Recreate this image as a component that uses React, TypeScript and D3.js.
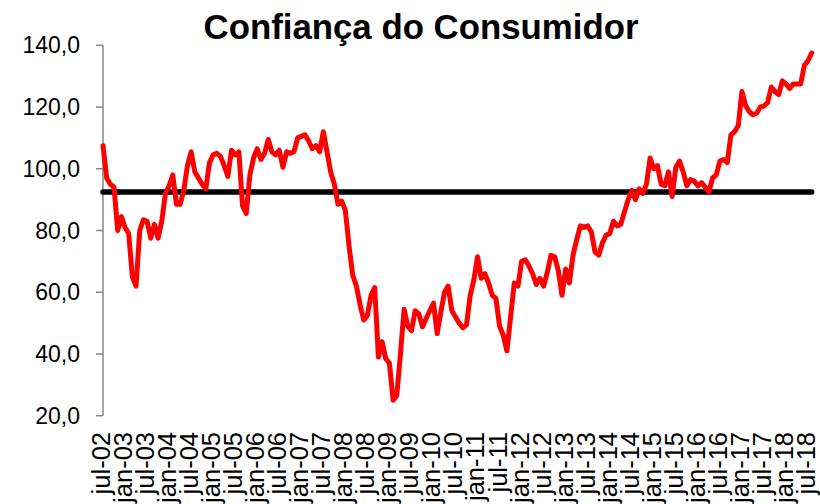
import React from "react";
import * as d3 from "d3";

const title = "Confiança do Consumidor";

const values: number[] = [
  107.5, 97, 95, 94, 80, 84.5, 81, 79, 65, 62,
  80, 83.5, 83, 77.5, 82, 77.5, 83, 92, 94.5, 98,
  88.5, 88.5, 93, 101, 105.5, 99, 97, 95, 93.5, 102,
  104.5, 105, 104, 101, 97.5, 106, 104.5, 105.5, 88, 85.5,
  98, 103.5, 106.5, 103, 105, 109.5, 105.5, 104.5, 106, 100.5,
  105.5, 105, 105.5, 110, 110.5, 111, 109, 106.5, 107.5, 105.5,
  112, 105.5, 99, 95, 88.5, 89.5, 86.5, 75, 65.5, 62,
  56, 51, 52.5, 59, 61.5, 39, 44, 38.5, 37, 25,
  26.5, 40, 54.5, 49, 47.5, 54, 53, 48.8, 51.5, 54,
  56.5, 46.6, 53.5, 60, 62, 54, 52, 50, 48.5, 49.5,
  59, 64, 71.5, 64.5, 66, 63, 59, 58, 49, 46,
  41, 52, 63, 62, 70, 70.5, 68.5, 66, 62.5, 64.5,
  62, 66.5, 72, 71.5, 67, 59, 67.5, 63, 72, 77,
  81.5, 81, 81.5, 79.5, 73, 72, 76, 78.5, 79, 83,
  81.5, 82, 86, 90, 93, 90, 93.5, 92, 95, 103.5,
  100, 101, 95, 94.5, 99, 91, 100.5, 102.5, 99, 94.5,
  96.5, 96, 94.5, 95.5, 94, 92.5, 97, 98, 102.5, 103,
  102, 111, 112, 114, 125, 120.5, 118.5, 117.5, 118, 120,
  120.3, 121.5, 126.5, 125, 124, 128.5, 127.5, 126, 127.5, 127.5,
  127.5, 133.5, 135, 137.5,
];

const averageValue = 92.5;

const tickLabels: string[] = [
  "jul-02", "jan-03", "jul-03", "jan-04", "jul-04", "jan-05", "jul-05",
  "jan-06", "jul-06", "jan-07", "jul-07", "jan-08", "jul-08", "jan-09",
  "jul-09", "jan-10", "jul-10", "jan-11", "jul-11", "jan-12", "jul-12",
  "jan-13", "jul-13", "jan-14", "jul-14", "jan-15", "jul-15", "jan-16",
  "jul-16", "jan-17", "jul-17", "jan-18", "jul-18",
];

const yTicks: number[] = [20, 40, 60, 80, 100, 120, 140];

const W = 820;
const H = 504;
const FONT = "'Liberation Sans', Arial, sans-serif";

export default function App() {
  const n = values.length;
  const x = d3.scaleLinear().domain([0, n - 1]).range([103, 811.7]);
  const y = d3.scaleLinear().domain([20, 140]).range([415.7, 45.3]);

  const line = d3
    .line<number>()
    .x((_, i) => x(i))
    .y((d) => y(d))
    .curve(d3.curveLinear);

  const avgLine = d3
    .line<number>()
    .x((_, i) => x(i))
    .y(() => y(averageValue));

  const fmt = (v: number) => d3.format(".1f")(v).replace(".", ",");

  return (
    <svg
      width={W}
      height={H}
      style={{ position: "absolute", left: 0, top: 0, background: "#fff" }}
      fontFamily={FONT}
    >
      <text
        x={421}
        y={39}
        textAnchor="middle"
        fontSize={34.8}
        fontWeight="bold"
        fill="#000"
      >
        {title}
      </text>

      {/* y axis */}
      <line x1={103} x2={103} y1={y(140)} y2={y(20)} stroke="#868686" strokeWidth={1.5} />
      {yTicks.map((t) => (
        <g key={t}>
          <line x1={96} x2={103} y1={y(t)} y2={y(t)} stroke="#868686" strokeWidth={1.5} />
          <text
            x={80}
            y={y(t)}
            textAnchor="end"
            dominantBaseline="central"
            fontSize={23}
            fill="#000"
          >
            {fmt(t)}
          </text>
        </g>
      ))}

      {/* x labels */}
      {tickLabels.map((lab, k) => {
        const xi = x(k * 6) - 2;
        return (
          <text
            key={lab}
            transform={`translate(${xi},432) rotate(-90)`}
            textAnchor="end"
            dy="0.35em"
            fontSize={25.5}
            fill="#000"
          >
            {lab}
          </text>
        );
      })}

      <path
        d={avgLine(values) || ""}
        fill="none"
        stroke="#000"
        strokeWidth={5.5}
        strokeLinecap="round"
      />
      <path
        d={line(values) || ""}
        fill="none"
        stroke="#FF0000"
        strokeWidth={5}
        strokeLinejoin="round"
        strokeLinecap="round"
      />
    </svg>
  );
}
